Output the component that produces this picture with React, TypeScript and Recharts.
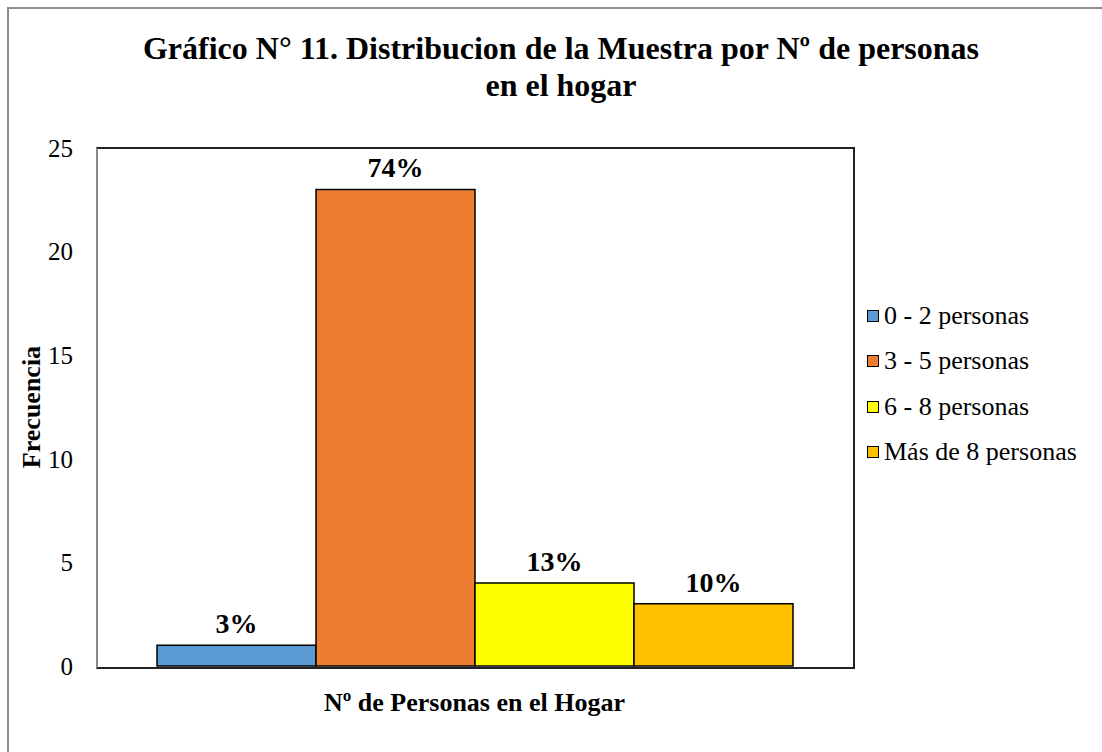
import { BarChart, Bar, XAxis, YAxis, LabelList } from 'recharts'

const SERIES_NAMES = ['0 - 2 personas', '3 - 5 personas', '6 - 8 personas', 'Más de 8 personas']
const SERIES_VALUES = [1, 23, 4, 3]
const SERIES_LABELS = ['3%', '74%', '13%', '10%']
const SERIES_COLORS = ['#5B9BD5', '#ED7D31', '#FFFF00', '#FFC000']
const Y_TICKS = [0, 5, 10, 15, 20, 25]

const FONT = "'Times New Roman', 'Liberation Serif', Tinos, serif"

const row: Record<string, string | number> = { name: 'hogar' }
SERIES_VALUES.forEach((v, i) => { row[`s${i}`] = v })
const data = [row]

function LegendBox() {
  return (
    <div style={{ position: 'absolute', left: 867, top: 293, fontFamily: FONT, fontSize: 26, color: '#000' }}>
      {SERIES_NAMES.map((n, i) => (
        <div key={n} style={{ display: 'flex', alignItems: 'center', height: 45.5 }}>
          <span style={{ width: 10, height: 10, background: SERIES_COLORS[i], border: '1.5px solid #000', marginRight: 5 }} />
          <span>{n}</span>
        </div>
      ))}
    </div>
  )
}

export default function App() {
  return (
    <div style={{ position: 'absolute', left: 0, top: 0, width: 1102, height: 752, background: '#fff', fontFamily: FONT }}>
      {/* marco exterior */}
      <div style={{ position: 'absolute', left: 7, top: 7, right: -2, bottom: -2, borderLeft: '2px solid #8c8c8c', borderTop: '2px solid #8c8c8c' }} />
      <div style={{ position: 'absolute', left: 0, top: 30, width: 1122, textAlign: 'center', fontWeight: 'bold', fontSize: 32, lineHeight: '37px' }}>
        Gráfico N° 11. Distribucion de la Muestra por Nº de personas<br />en el hogar
      </div>
      <BarChart width={1102} height={752} data={data} barGap={0} barCategoryGap={60}
        margin={{ top: 148, right: 250, bottom: 86, left: 0 }}>
        <XAxis dataKey="name" height={0} tick={false} tickLine={false} axisLine={false} />
        <YAxis width={97} domain={[0, 25]} ticks={Y_TICKS} tickLine={false} tickMargin={18}
          axisLine={false}
          tick={{ fontSize: 25, fill: '#000', fontFamily: FONT }} />
        {SERIES_NAMES.map((n, i) => (
          <Bar key={n} dataKey={`s${i}`} name={n} fill={SERIES_COLORS[i]} stroke="#000" strokeWidth={1.5} isAnimationActive={false}>
            <LabelList dataKey={`s${i}`} position="top" offset={12}
              formatter={() => SERIES_LABELS[i]}
              style={{ fontSize: 28, fontWeight: 'bold', fill: '#000', fontFamily: FONT }} />
          </Bar>
        ))}
      </BarChart>
      {/* marco del área de trazado */}
      <div style={{
        position: 'absolute', left: 96, top: 147, width: 755, height: 518, pointerEvents: 'none',
        borderTop: '2px solid #222', borderRight: '2px solid #222', borderBottom: '2px solid #222', borderLeft: '2px solid #8a8a8a',
      }} />
      <div style={{ position: 'absolute', left: 32, top: 407, width: 0, height: 0 }}>
        <div style={{ position: 'absolute', transform: 'translate(-50%, -50%) rotate(-90deg)', fontWeight: 'bold', fontSize: 26, whiteSpace: 'nowrap' }}>
          Frecuencia
        </div>
      </div>
      <div style={{ position: 'absolute', left: 97, top: 688, width: 755, textAlign: 'center', fontWeight: 'bold', fontSize: 26 }}>
        Nº de Personas en el Hogar
      </div>
      <LegendBox />
    </div>
  )
}
